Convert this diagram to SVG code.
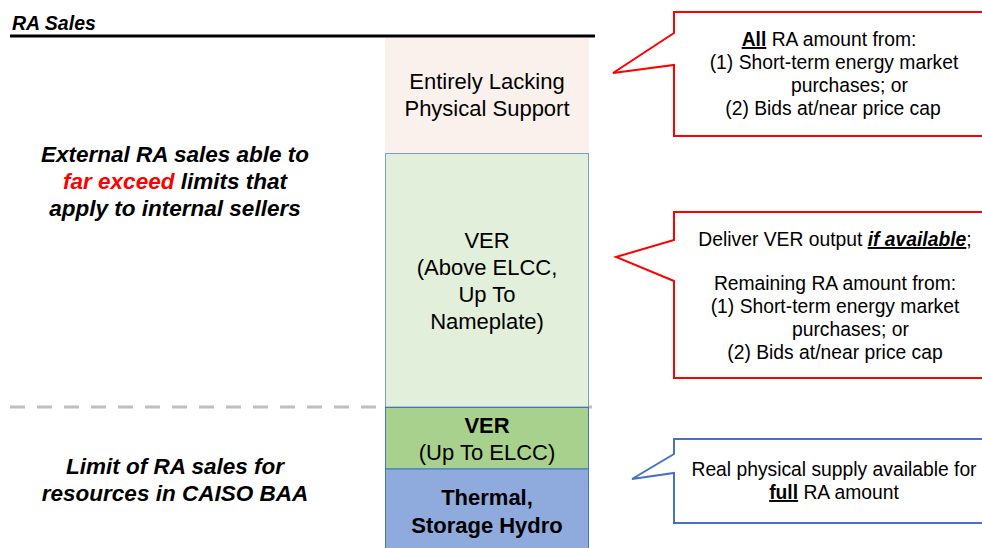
<svg xmlns="http://www.w3.org/2000/svg" width="982" height="548" viewBox="0 0 982 548">
<style>
text{font-family:"Liberation Sans",Arial,sans-serif;fill:#000}
.hd{font-size:22.5px;font-weight:bold;font-style:italic}
.col{font-size:22px;text-anchor:middle}
.co{font-size:19.3px}
.c{text-anchor:middle}
.b{font-weight:bold}
.u{text-decoration:underline}
.red{fill:#FF0000}
.cr{fill:#fff;stroke:#FF0000;stroke-width:2}
.cb{fill:#fff;stroke:#4472C4;stroke-width:2}
</style>
<rect width="982" height="548" fill="#fff"/>
<g id="header">
<text x="12" y="30" style="font-size:19.5px;font-weight:bold;font-style:italic">RA Sales</text>
<line x1="10" y1="36" x2="595" y2="36" stroke="#000" stroke-width="3"/>
</g>
<g id="connectors">
<line x1="10" y1="407" x2="596" y2="407" stroke="#BFBFBF" stroke-width="3" stroke-dasharray="15,12"/>
</g>
<g id="label-external">
<text class="hd c" x="175"><tspan x="175" y="162">External RA sales able to</tspan><tspan x="175" y="189"><tspan class="red">far exceed</tspan> limits that</tspan><tspan x="175" y="216">apply to internal sellers</tspan></text>
</g>
<g id="label-limit">
<text class="hd c" x="175"><tspan x="175" y="474">Limit of RA sales for</tspan><tspan x="175" y="501">resources in CAISO BAA</tspan></text>
</g>
<g id="box-lacking">
<rect x="385" y="38" width="204" height="115" fill="#FBF1EC"/>
<text class="col"><tspan x="487" y="89">Entirely Lacking</tspan><tspan x="487" y="116">Physical Support</tspan></text>
</g>
<g id="box-ver-above">
<rect x="385.5" y="153.5" width="203" height="253.5" fill="#E2EFDA" stroke="#7F9BCB" stroke-width="1"/>
<text class="col"><tspan x="487" y="248">VER</tspan><tspan x="487" y="275">(Above ELCC,</tspan><tspan x="487" y="302">Up To</tspan><tspan x="487" y="329">Nameplate)</tspan></text>
</g>
<g id="box-ver-elcc">
<rect x="385.5" y="407.5" width="203" height="61.5" fill="#A9D18E" stroke="#4472C4" stroke-width="1"/>
<text class="col"><tspan x="487" y="433" class="b">VER</tspan><tspan x="487" y="460">(Up To ELCC)</tspan></text>
</g>
<g id="box-thermal">
<rect x="385.5" y="469" width="203" height="82" fill="#8FAADC" stroke="#4472C4" stroke-width="1"/>
<text class="col b"><tspan x="487" y="505">Thermal,</tspan><tspan x="487" y="533">Storage Hydro</tspan></text>
</g>
<g id="callout-all">
<path class="cr" d="M674,12 H992 V136 H674 V65 L613,73 L674,33 Z"/>
<text class="co"><tspan x="829" y="46" class="c"><tspan class="b u">All</tspan> RA amount from:</tspan><tspan x="834" y="69" class="c">(1) Short-term energy market</tspan><tspan x="791" y="92">purchases; or</tspan><tspan x="833" y="115" class="c">(2) Bids at/near price cap</tspan></text>
</g>
<g id="callout-ver">
<path class="cr" d="M674,212 H992 V378 H674 V281 L616,257 L674,240 Z"/>
<text class="co"><tspan x="835" y="246" class="c">Deliver VER output <tspan class="b u" font-style="italic">if available</tspan>;</tspan><tspan x="835" y="290" class="c">Remaining RA amount from:</tspan><tspan x="835" y="313" class="c">(1) Short-term energy market</tspan><tspan x="792" y="336">purchases; or</tspan><tspan x="835" y="359" class="c">(2) Bids at/near price cap</tspan></text>
</g>
<g id="callout-real">
<path class="cb" d="M674,439 H992 V523 H674 V473 L632,479 L674,454 Z"/>
<text class="co"><tspan x="834" y="476" class="c">Real physical supply available for</tspan><tspan x="834" y="499" class="c"><tspan class="b u">full</tspan> RA amount</tspan></text>
</g>
</svg>
